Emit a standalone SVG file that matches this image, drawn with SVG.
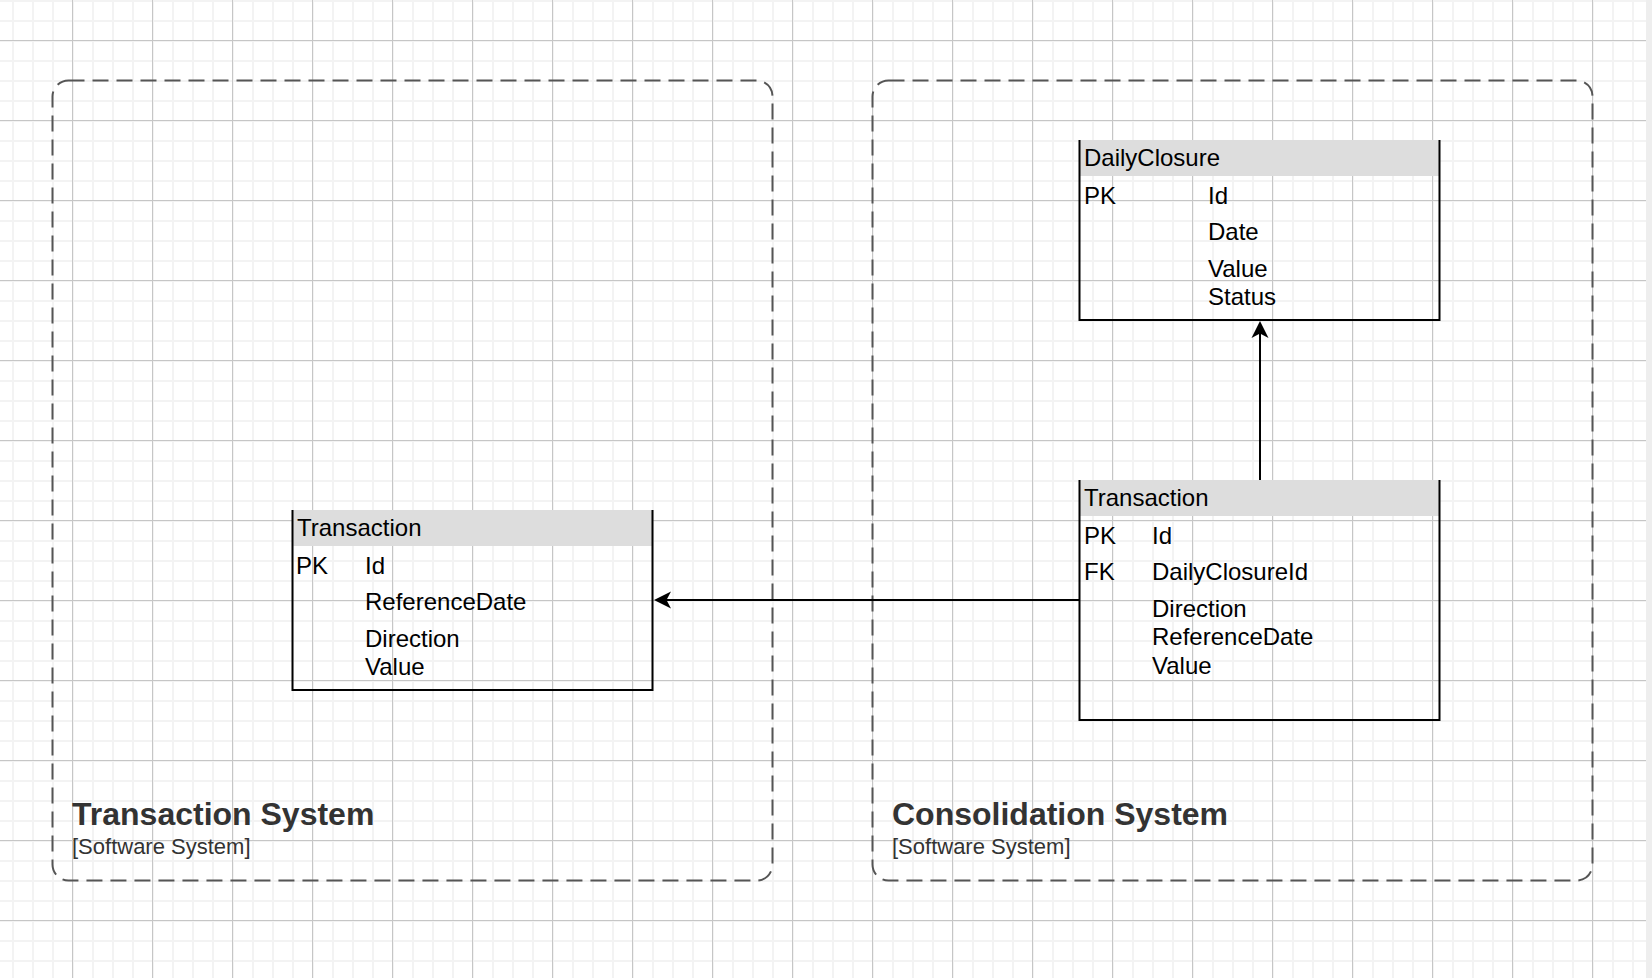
<svg xmlns="http://www.w3.org/2000/svg" width="1652" height="978" viewBox="0 0 1652 978">
  <defs>
    <pattern id="gridMinor" patternUnits="userSpaceOnUse" x="12" y="0" width="20" height="20">
      <path d="M0 1 H20 M1 0 V20" fill="none" stroke="#f3f3f3" stroke-width="2"/>
    </pattern>
    <pattern id="gridMajor" patternUnits="userSpaceOnUse" x="72" y="40" width="80" height="80">
      <path d="M0 0.5 H80 M0.5 0 V80" fill="none" stroke="#c6c6c6" stroke-width="1"/>
    </pattern>
    <marker id="arrow" markerUnits="userSpaceOnUse" viewBox="-20 -12 34 24" markerWidth="34" markerHeight="24" refX="0" refY="0" orient="auto" overflow="visible">
      <path d="M12,0 L-5,-8.5 L-0.5,0 L-5,8.5 Z" fill="#000"/>
    </marker>
    <style>
      .boundary { fill: none; stroke: #555; stroke-width: 2; stroke-dasharray: 16 8; }
      .sysTitle { font-family: "Liberation Sans", Arial, sans-serif; font-size: 32px; font-weight: bold; fill: #333; }
      .sysType { font-family: "Liberation Sans", Arial, sans-serif; font-size: 22px; fill: #333; }
      .header { fill: #dddddd; }
      .border { fill: none; stroke: #000; stroke-width: 2; }
      .t { font-family: "Liberation Sans", Arial, sans-serif; font-size: 24px; fill: #000; }
      .edge { fill: none; stroke: #000; stroke-width: 2; marker-end: url(#arrow); }
    </style>
  </defs>

  <!-- canvas and grid -->
  <rect width="1652" height="978" fill="#ffffff"/>
  <rect width="1646" height="978" fill="url(#gridMinor)"/>
  <rect width="1646" height="978" fill="url(#gridMajor)"/>
  <rect x="1646" y="0" width="6" height="978" fill="#eeeeee"/>

  <!-- software system boundaries -->
  <g id="transaction-system">
    <rect class="boundary" x="52.5" y="80.5" width="720" height="800" rx="16" ry="16"/>
    <text class="sysTitle" x="72" y="825">Transaction System</text>
    <text class="sysType" x="72" y="853.5">[Software System]</text>
  </g>

  <g id="consolidation-system">
    <rect class="boundary" x="872.5" y="80.5" width="720" height="800" rx="16" ry="16"/>
    <text class="sysTitle" x="892" y="825">Consolidation System</text>
    <text class="sysType" x="892" y="853.5">[Software System]</text>
  </g>

  <!-- entity tables -->
  <g id="transaction-source">
    <rect class="header" x="292.5" y="510" width="360" height="36"/>
    <path class="border" d="M292.5 510 V690 H652.5 V510"/>
    <text class="t" x="297" y="536">Transaction</text>
    <text class="t" x="296" y="574">PK</text>
    <text class="t" x="365" y="574">Id</text>
    <text class="t" x="365" y="610">ReferenceDate</text>
    <text class="t" x="365" y="646.5">Direction</text>
    <text class="t" x="365" y="675">Value</text>
  </g>

  <g id="daily-closure">
    <rect class="header" x="1079.5" y="140" width="360" height="36"/>
    <path class="border" d="M1079.5 140 V320 H1439.5 V140"/>
    <text class="t" x="1084" y="166">DailyClosure</text>
    <text class="t" x="1084" y="204">PK</text>
    <text class="t" x="1208" y="204">Id</text>
    <text class="t" x="1208" y="240">Date</text>
    <text class="t" x="1208" y="276.5">Value</text>
    <text class="t" x="1208" y="305">Status</text>
  </g>

  <g id="transaction-consolidated">
    <rect class="header" x="1079.5" y="480" width="360" height="36"/>
    <path class="border" d="M1079.5 480 V720 H1439.5 V480"/>
    <text class="t" x="1084" y="506">Transaction</text>
    <text class="t" x="1084" y="544">PK</text>
    <text class="t" x="1152" y="544">Id</text>
    <text class="t" x="1084" y="580">FK</text>
    <text class="t" x="1152" y="580">DailyClosureId</text>
    <text class="t" x="1152" y="616.5">Direction</text>
    <text class="t" x="1152" y="645">ReferenceDate</text>
    <text class="t" x="1152" y="673.5">Value</text>
  </g>

  <!-- relationships -->
  <g id="connectors">
    <path class="edge" d="M1260 480 V333"/>
    <path class="edge" d="M1079.5 600 H666"/>
  </g>
</svg>
